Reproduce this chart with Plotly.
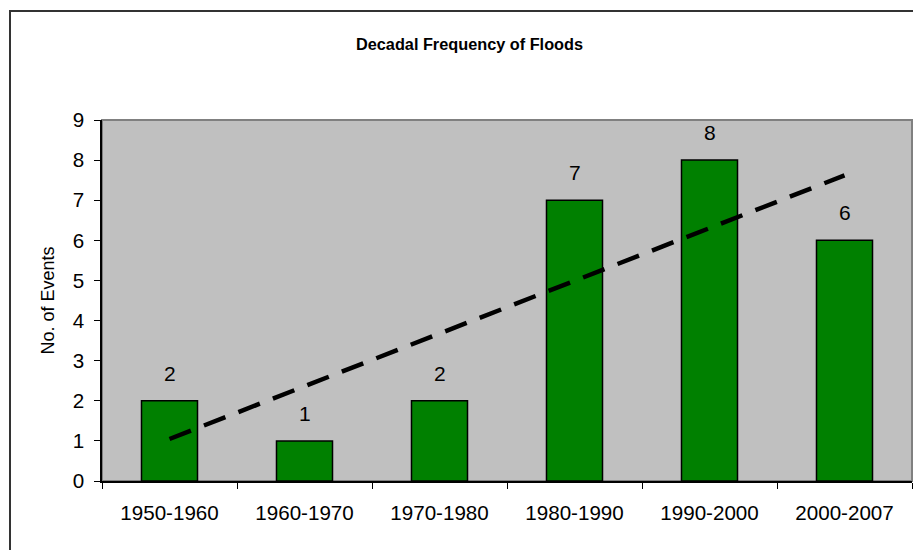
import numpy as np
import plotly.graph_objects as go

# Flood events per decade
decades = ["1950-1960", "1960-1970", "1970-1980", "1980-1990", "1990-2000", "2000-2007"]
events = [2, 1, 2, 7, 8, 6]
y_ticks = list(range(0, 10))

# Linear trend through the decadal counts
idx = np.arange(1, len(events) + 1)
slope, intercept = np.polyfit(idx, events, 1)
trend = slope * idx + intercept

W, H = 913, 550
L, R, T, B = 102, 1, 120, 69
pw = W - L - R
ph = H - T - B

fig = go.Figure()
fig.add_trace(go.Bar(
    x=decades, y=events,
    marker=dict(color="#008000", line=dict(color="#000000", width=1.5)),
    showlegend=False, hoverinfo="x+y",
))
fig.add_trace(go.Scatter(
    x=decades, y=trend, mode="lines",
    line=dict(color="#000000", width=4.5, dash="23px,14px"),
    showlegend=False, hoverinfo="skip",
))

# value labels above bars
for d, v in zip(decades, events):
    fig.add_annotation(x=d, y=v, text=str(v), showarrow=False,
                       yanchor="bottom", yshift=14,
                       font=dict(family="Liberation Sans, Arial", size=21, color="#000000"))

def px_x(p):
    return (p - L) / pw

def px_y(p):
    return (H - B - p) / ph

shapes = [
    # plot area frame
    dict(type="rect", xref="paper", yref="paper", x0=0, x1=1, y0=0, y1=1,
         line=dict(color="#808080", width=2), fillcolor="rgba(0,0,0,0)", layer="below"),
    # chart frame
    dict(type="rect", xref="paper", yref="paper",
         x0=px_x(10), x1=px_x(W + 20), y0=px_y(H + 20), y1=px_y(11),
         line=dict(color="#333333", width=2), fillcolor="rgba(0,0,0,0)"),
]

fig.update_layout(
    width=W, height=H,
    margin=dict(l=L, r=R, t=T, b=B, pad=0),
    paper_bgcolor="#FFFFFF",
    plot_bgcolor="#C0C0C0",
    bargap=0.585,
    shapes=shapes,
    font=dict(family="Liberation Sans, Arial", color="#000000"),
    title=dict(
        text="<b>Decadal Frequency of Floods</b>",
        x=469.5 / W, xref="container", xanchor="center",
        y=1 - 44 / H, yref="container", yanchor="middle",
        font=dict(family="Liberation Sans, Arial", size=16.3, color="#000000"),
    ),
    xaxis=dict(
        type="category",
        showline=True, linecolor="#000000", linewidth=1.5,
        ticks="outside", tickson="boundaries", ticklen=6, tickcolor="#000000",
        tickfont=dict(size=20.6),
        ticklabelstandoff=13,
        showgrid=False, zeroline=False,
        range=[-0.5, 5.5],
    ),
    yaxis=dict(
        range=[0, 9], tickvals=y_ticks,
        showline=True, linecolor="#000000", linewidth=1.5,
        ticks="outside", ticklen=6, tickcolor="#000000",
        tickfont=dict(size=20.6),
        ticklabelstandoff=6,
        showgrid=False, zeroline=False,
        title=dict(text="No. of Events", standoff=13,
                   font=dict(family="Liberation Sans, Arial", size=18)),
    ),
)

fig.write_html("out.html")
